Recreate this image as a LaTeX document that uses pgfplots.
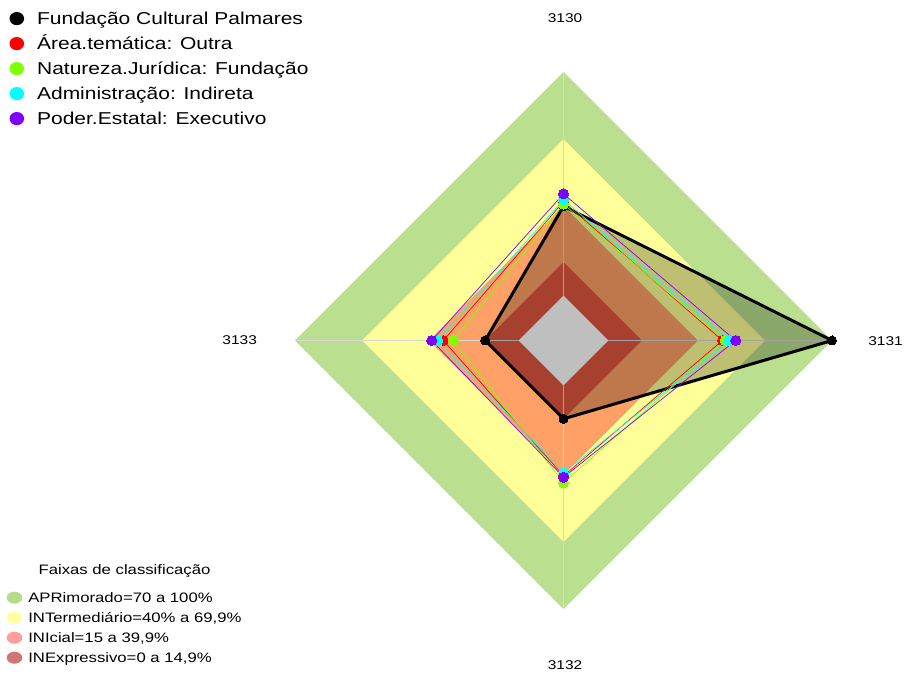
\documentclass[border=0pt]{standalone}
\usepackage{pgfplots}
\pgfplotsset{compat=1.18}
\usepackage{pgfplotstable}
\usepackage{graphicx}
\usepackage{fontspec}
\setmainfont{Liberation Sans}

\definecolor{bandG}{RGB}{186,223,142}
\definecolor{bandY}{RGB}{255,255,153}
\definecolor{bandO}{RGB}{255,160,102}
\definecolor{bandR}{RGB}{224,86,62}
\definecolor{legG}{RGB}{181,220,138}
\definecolor{legY}{RGB}{255,255,160}
\definecolor{legO}{RGB}{255,156,156}
\definecolor{legR}{RGB}{208,117,117}
\definecolor{sRed}{RGB}{255,0,0}
\definecolor{sGreen}{RGB}{128,255,0}
\definecolor{sCyan}{RGB}{0,255,255}
\definecolor{sPurple}{RGB}{128,0,255}
\definecolor{spoke}{RGB}{215,215,215}

% radar transform: centre (563.5,332.5), 1 unit = 2.2383 px, value 0 at 20 units from centre
\newcommand{\rx}[1]{563.5+2.2383*(\thisrow{#1}+20)*cos(\thisrow{ang})}
\newcommand{\ry}[1]{332.5+2.2383*(\thisrow{#1}+20)*sin(\thisrow{ang})}
\newcommand{\sx}[1]{\scalebox{1.22}[1]{#1}}

% classification bands (percent)
\pgfplotstableread{
ang apr int ini ine zero
90  100 70 40 15 0
0   100 70 40 15 0
270 100 70 40 15 0
180 100 70 40 15 0
90  100 70 40 15 0
}\bands

% spokes
\pgfplotstableread{
ang v
90 0
90 100
}\spokeN
\pgfplotstableread{
ang v
0 0
0 100
}\spokeE
\pgfplotstableread{
ang v
270 0
270 100
}\spokeS
\pgfplotstableread{
ang v
180 0
180 100
}\spokeW

% series values: 3130 (top), 3131 (right), 3132 (bottom), 3133 (left)
\pgfplotstableread{
ang fcp area nat adm pod
90  40  42.0 40.9 42.8 45.5
0   100 51.0 52.2 54.1 56.9
270 15  40.5 43.5 39.1 41.1
180 15  33.7 29.2 36.2 38.9
90  40  42.0 40.9 42.8 45.5
}\series

\begin{document}
\begin{tikzpicture}
% ---------- axis A: bands + band legend ----------
\begin{axis}[
  at={(0,0)}, anchor=south west,
  x=1pt, y=1pt, xmin=0, xmax=904, ymin=0, ymax=673,
  enlargelimits=false, hide axis, clip=false,
  legend cell align=left,
  legend style={
    at={(axis cs:6.7,81.3)}, anchor=north west,
    draw=none, fill=none, inner sep=0pt, outer sep=0pt,
    row sep=8pt, column sep=6pt,
    font=\fontsize{13.7}{16}\selectfont,
    nodes={inner sep=0pt, text height=9.8pt, text depth=0pt},
  },
]
\addplot[draw=none, fill=bandG,
  legend image code/.code={\fill[legG] (0,0) ellipse [x radius=7.8pt, y radius=6pt];}]
  table[x expr={\rx{apr}}, y expr={\ry{apr}}] {\bands};
\addlegendentry{\sx{APRimorado=70 a 100\%}}
\addplot[draw=none, fill=bandY,
  legend image code/.code={\fill[legY] (0,0) ellipse [x radius=7.8pt, y radius=6pt];}]
  table[x expr={\rx{int}}, y expr={\ry{int}}] {\bands};
\addlegendentry{\sx{INTermediário=40\% a 69,9\%}}
\addplot[draw=none, fill=bandO,
  legend image code/.code={\fill[legO] (0,0) ellipse [x radius=7.8pt, y radius=6pt];}]
  table[x expr={\rx{ini}}, y expr={\ry{ini}}] {\bands};
\addlegendentry{\sx{INIcial=15 a 39,9\%}}
\addplot[draw=none, fill=bandR,
  legend image code/.code={\fill[legR] (0,0) ellipse [x radius=7.8pt, y radius=6pt];}]
  table[x expr={\rx{ine}}, y expr={\ry{ine}}] {\bands};
\addlegendentry{\sx{INExpressivo=0 a 14,9\%}}
\addplot[draw=none, fill=white, forget plot]
  table[x expr={\rx{zero}}, y expr={\ry{zero}}] {\bands};
% spokes
\addplot[spoke, line width=1pt, forget plot] table[x expr={\rx{v}}, y expr={\ry{v}}] {\spokeN};
\addplot[spoke, line width=1pt, forget plot] table[x expr={\rx{v}}, y expr={\ry{v}}] {\spokeE};
\addplot[spoke, line width=1pt, forget plot] table[x expr={\rx{v}}, y expr={\ry{v}}] {\spokeS};
\addplot[spoke, line width=1pt, forget plot] table[x expr={\rx{v}}, y expr={\ry{v}}] {\spokeW};

% legend title and axis labels
\node[anchor=base, inner sep=0pt, font=\fontsize{13.7}{16}\selectfont] at (axis cs:124.5,98.7) {\sx{Faixas de classificação}};
\node[inner sep=0pt, text height=9pt, text depth=0pt, font=\fontsize{12.7}{15}\selectfont] at (axis cs:565,655) {\sx{3130}};
\node[inner sep=0pt, text height=9pt, text depth=0pt, font=\fontsize{12.7}{15}\selectfont] at (axis cs:885.5,332.5) {\sx{3131}};
\node[inner sep=0pt, text height=9pt, text depth=0pt, font=\fontsize{12.7}{15}\selectfont] at (axis cs:565,8) {\sx{3132}};
\node[inner sep=0pt, text height=9pt, text depth=0pt, font=\fontsize{12.7}{15}\selectfont] at (axis cs:239.7,333.5) {\sx{3133}};
\end{axis}

% ---------- axis B: series + series legend ----------
\begin{axis}[
  at={(0,0)}, anchor=south west,
  x=1pt, y=1pt, xmin=0, xmax=904, ymin=0, ymax=673,
  enlargelimits=false, hide axis, clip=false,
  legend cell align=left,
  legend style={
    at={(axis cs:9.5,661)}, anchor=north west,
    draw=none, fill=none, inner sep=0pt, outer sep=0pt,
    row sep=11.8pt, column sep=13pt,
    font=\fontsize{17.2}{20}\selectfont,
    nodes={inner sep=0pt, text height=12.3pt, text depth=0pt},
  },
]
\addplot[draw=black, line width=3pt, fill=black, fill opacity=0.25,
  mark=*, mark size=4.5pt, mark options={fill=black, fill opacity=1, line width=0pt},
  legend image code/.code={\fill[black, fill opacity=1, draw=none] (0,0) ellipse [x radius=7.3pt, y radius=6.6pt];}]
  table[x expr={\rx{fcp}}, y expr={\ry{fcp}}] {\series};
\addlegendentry{\sx{Fundação Cultural Palmares}}
\addplot[draw=sRed, line width=0.7pt,
  mark=*, mark size=5pt, mark options={fill=sRed, draw=sRed, line width=0pt},
  legend image code/.code={\fill[sRed, draw=none] (0,0) ellipse [x radius=7.3pt, y radius=6.6pt];}]
  table[x expr={\rx{area}}, y expr={\ry{area}}] {\series};
\addlegendentry{\sx{Área.temática: Outra}}
\addplot[draw=sGreen, line width=0.7pt,
  mark=*, mark size=5pt, mark options={fill=sGreen, draw=sGreen, line width=0pt},
  legend image code/.code={\fill[sGreen, draw=none] (0,0) ellipse [x radius=7.3pt, y radius=6.6pt];}]
  table[x expr={\rx{nat}}, y expr={\ry{nat}}] {\series};
\addlegendentry{\sx{Natureza.Jurídica: Fundação}}
\addplot[draw=sCyan, line width=0.7pt,
  mark=*, mark size=5pt, mark options={fill=sCyan, draw=sCyan, line width=0pt},
  legend image code/.code={\fill[sCyan, draw=none] (0,0) ellipse [x radius=7.3pt, y radius=6.6pt];}]
  table[x expr={\rx{adm}}, y expr={\ry{adm}}] {\series};
\addlegendentry{\sx{Administração: Indireta}}
\addplot[draw=sPurple, line width=0.7pt,
  mark=*, mark size=5pt, mark options={fill=sPurple, draw=sPurple, line width=0pt},
  legend image code/.code={\fill[sPurple, draw=none] (0,0) ellipse [x radius=7.3pt, y radius=6.6pt];}]
  table[x expr={\rx{pod}}, y expr={\ry{pod}}] {\series};
\addlegendentry{\sx{Poder.Estatal: Executivo}}
\end{axis}
\pgfresetboundingbox
\path (0,0) rectangle (904pt,673pt);
\end{tikzpicture}
\end{document}
